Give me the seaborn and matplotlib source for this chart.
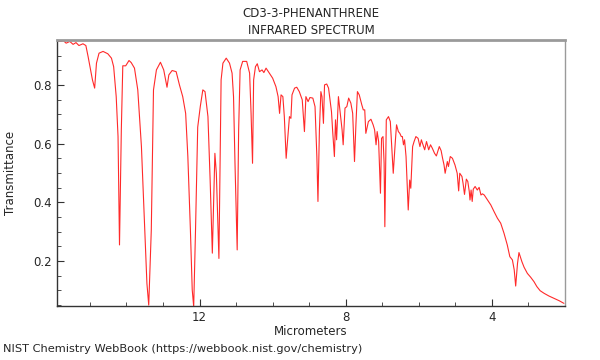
import pandas as pd
import matplotlib
matplotlib.use('Agg')
import matplotlib.pyplot as plt
import seaborn as sns
from matplotlib.ticker import MultipleLocator

# Spectrum (micrometers, transmittance)
wavelength = [
    15.90, 15.80, 15.72, 15.65, 15.55, 15.46, 15.38, 15.30, 15.19, 15.11,
    15.05, 14.99, 14.93, 14.87, 14.82, 14.75, 14.64, 14.51, 14.41, 14.35,
    14.28, 14.23, 14.19, 14.14, 14.10, 14.02, 13.93, 13.87, 13.78, 13.69,
    13.59, 13.50, 13.44, 13.39, 13.32, 13.26, 13.18, 13.07, 12.98, 12.89,
    12.84, 12.75, 12.64, 12.55, 12.46, 12.38, 12.32, 12.25, 12.20, 12.16,
    12.11, 12.05, 11.98, 11.91, 11.85, 11.77, 11.71, 11.65, 11.61, 11.58,
    11.54, 11.47,
    11.41, 11.36, 11.27, 11.18, 11.11, 11.07, 11.03, 10.97, 10.93, 10.89,
    10.82, 10.71, 10.63, 10.59, 10.55, 10.52, 10.47, 10.42, 10.36, 10.29,
    10.24, 10.18, 10.09, 10.00, 9.91, 9.85, 9.81, 9.77, 9.72, 9.68,
    9.63, 9.59, 9.54, 9.50, 9.47, 9.40, 9.34, 9.27, 9.19, 9.13,
    9.09, 9.03, 8.98, 8.90, 8.84, 8.79, 8.76, 8.72, 8.68, 8.65,
    8.61, 8.58, 8.52, 8.47, 8.39, 8.36, 8.31, 8.28, 8.25, 8.20,
    8.16, 8.10, 8.07, 8.02, 7.97, 7.92, 7.86, 7.81, 7.76, 7.72,
    7.68, 7.63, 7.56, 7.52, 7.48, 7.45, 7.38, 7.31, 7.25, 7.21,
    7.17, 7.14, 7.10, 7.05, 7.02, 6.98, 6.95, 6.93, 6.89, 6.83,
    6.78, 6.74, 6.70, 6.64, 6.61, 6.56,
    6.52, 6.48, 6.45, 6.42, 6.39, 6.35, 6.32, 6.29, 6.25, 6.22,
    6.17, 6.13, 6.08, 6.02, 5.97, 5.93, 5.90, 5.84, 5.79, 5.73,
    5.68, 5.63, 5.57, 5.52, 5.44, 5.39, 5.35, 5.31, 5.28, 5.22,
    5.19, 5.14, 5.08, 5.01, 4.95, 4.91, 4.88, 4.82, 4.79, 4.75,
    4.70, 4.66, 4.62, 4.60, 4.57, 4.54, 4.51, 4.46, 4.40, 4.35,
    4.30, 4.26, 4.21, 4.12, 4.03, 3.94, 3.85, 3.76, 3.67, 3.58,
    3.51, 3.44, 3.39, 3.35, 3.30, 3.26, 3.18, 3.12, 3.03, 2.94,
    2.85, 2.77, 2.68, 2.57, 2.44, 2.30, 2.16, 2.03,
]
transmittance = [
    0.951, 0.948, 0.950, 0.942, 0.948, 0.938, 0.944, 0.934, 0.940, 0.934,
    0.897, 0.857, 0.817, 0.789, 0.874, 0.908, 0.914, 0.906, 0.891, 0.862,
    0.760, 0.624, 0.255, 0.647, 0.865, 0.865, 0.883, 0.876, 0.857, 0.783,
    0.590, 0.306, 0.124, 0.050, 0.306, 0.783, 0.851, 0.877, 0.851, 0.792,
    0.834, 0.849, 0.845, 0.800, 0.760, 0.703, 0.556, 0.306, 0.102, 0.045,
    0.306, 0.656, 0.726, 0.783, 0.777, 0.692, 0.476, 0.227, 0.420, 0.567,
    0.499, 0.209,
    0.817, 0.874, 0.891, 0.874, 0.840, 0.760, 0.533, 0.238, 0.647, 0.851,
    0.880, 0.880, 0.840, 0.703, 0.533, 0.817, 0.862, 0.872, 0.845, 0.851,
    0.842, 0.857, 0.840, 0.823, 0.794, 0.760, 0.703, 0.766, 0.760, 0.692,
    0.550, 0.613, 0.692, 0.686, 0.766, 0.789, 0.792, 0.777, 0.749, 0.641,
    0.760, 0.743, 0.757, 0.755, 0.726, 0.556, 0.403, 0.647, 0.777, 0.760,
    0.669, 0.800, 0.803, 0.789, 0.709, 0.647, 0.556, 0.681, 0.613, 0.760,
    0.715, 0.647, 0.596, 0.721, 0.726, 0.755, 0.738, 0.703, 0.539, 0.669,
    0.777, 0.766, 0.732, 0.715, 0.715, 0.635, 0.675, 0.683, 0.664, 0.647,
    0.596, 0.641, 0.607, 0.431, 0.618, 0.624, 0.533, 0.317, 0.681, 0.692,
    0.675, 0.590, 0.499, 0.613, 0.664, 0.641,
    0.635, 0.624, 0.624, 0.596, 0.613, 0.556, 0.465, 0.374, 0.476, 0.448,
    0.590, 0.607, 0.624, 0.618, 0.590, 0.613, 0.601, 0.579, 0.607, 0.579,
    0.596, 0.584, 0.567, 0.558, 0.590, 0.576, 0.550, 0.527, 0.499, 0.539,
    0.522, 0.556, 0.550, 0.527, 0.499, 0.439, 0.499, 0.488, 0.465, 0.427,
    0.479, 0.471, 0.437, 0.408, 0.442, 0.403, 0.445, 0.454, 0.442, 0.451,
    0.425, 0.429, 0.425, 0.408, 0.391, 0.368, 0.346, 0.329, 0.295, 0.255,
    0.215, 0.204, 0.170, 0.115, 0.192, 0.229, 0.198, 0.179, 0.158, 0.145,
    0.130, 0.113, 0.099, 0.090, 0.081, 0.073, 0.065, 0.056,
]

spectrum = pd.DataFrame({'Micrometers': wavelength, 'Transmittance': transmittance})

sns.set_style('ticks')
plt.rcParams['font.family'] = ['DejaVu Sans']

fig = plt.figure(figsize=(6, 3.6), dpi=100)
ax = fig.add_axes([0.095, 0.15, 0.8467, 0.739])

sns.lineplot(data=spectrum, x='Micrometers', y='Transmittance', sort=False,
             estimator=None, color='#ff2a2a', linewidth=0.8, ax=ax)

ax.set_xlim(15.9, 2.0)
ax.set_ylim(0.047, 0.953)
ax.xaxis.set_major_locator(MultipleLocator(4))
ax.xaxis.set_minor_locator(MultipleLocator(1))
ax.yaxis.set_major_locator(MultipleLocator(0.2))
ax.yaxis.set_minor_locator(MultipleLocator(0.05))
ax.tick_params(which='both', direction='in', top=False, right=False,
               labelsize=8.5, color='#333333')
ax.tick_params(which='major', length=5)
ax.tick_params(which='minor', length=3)

for side in ['left', 'bottom']:
    ax.spines[side].set_color('#333333')
    ax.spines[side].set_linewidth(1.0)
for side in ['top', 'right']:
    ax.spines[side].set_visible(True)
    ax.spines[side].set_color('#9a9a9a')
ax.spines['top'].set_linewidth(2.0)
ax.spines['right'].set_linewidth(1.0)

ax.set_xlabel('Micrometers', fontsize=8.5, labelpad=1)
ax.set_ylabel('Transmittance', fontsize=8.5, labelpad=12)
ax.set_title('CD3-3-PHENANTHRENE\nINFRARED SPECTRUM', fontsize=8.5, pad=4,
             linespacing=1.4)

fig.text(0.005, 0.018, 'NIST Chemistry WebBook (https://webbook.nist.gov/chemistry)',
         fontsize=8.2, ha='left', va='bottom')

fig.savefig('out.png', dpi=100)
